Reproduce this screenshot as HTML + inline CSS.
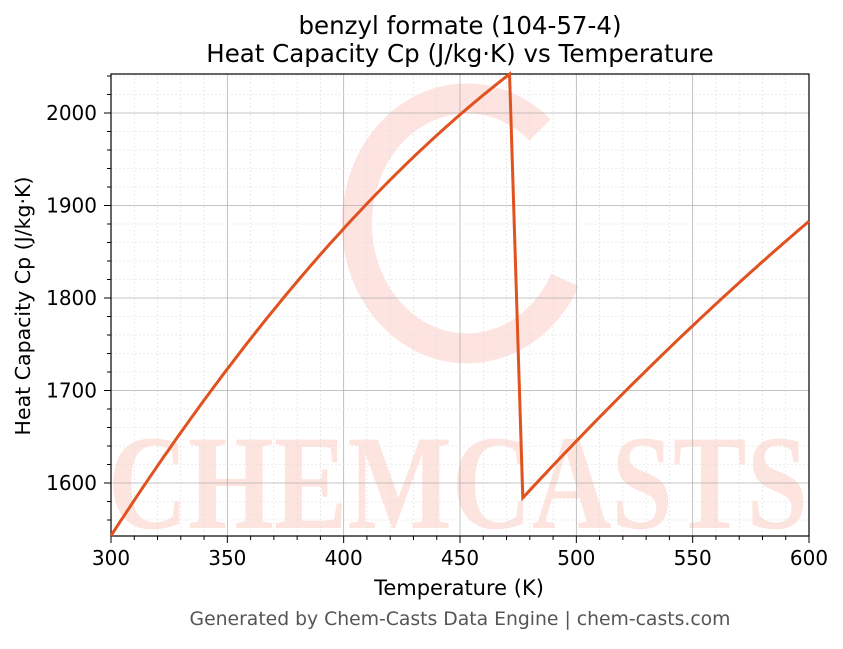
<!DOCTYPE html>
<html><head><meta charset="utf-8"><style>
body{margin:0;background:#fff;width:843px;height:644px;overflow:hidden}
svg text{font-family:"DejaVu Sans","Liberation Sans",sans-serif}
</style></head><body>
<svg id="s" width="843" height="644" xmlns="http://www.w3.org/2000/svg">
<rect width="843" height="644" fill="#fff"/>
<g id="wm" opacity="0.45">
<path d="M540 130 A110 125 0 1 0 565 280" fill="none" stroke="#fcc4ba" stroke-width="30"/>
<text x="458" y="528" text-anchor="middle" font-size="135" font-weight="bold" fill="#fcc4ba" textLength="700" lengthAdjust="spacingAndGlyphs" style="font-family:'Liberation Serif',serif">CHEMCASTS</text>
</g>
<g id="grid"></g>
<rect x="111" y="74" width="698" height="462" fill="none" stroke="#000" stroke-width="1.2"/>
<g id="ticks" font-size="20" fill="#000"></g>
<path id="c" fill="none" stroke="#e0521f" stroke-width="3"/>
<text x="460" y="34" text-anchor="middle" font-size="24.5">benzyl formate (104-57-4)</text>
<text x="460" y="62" text-anchor="middle" font-size="24.5">Heat Capacity Cp (J/kg·K) vs Temperature</text>
<text x="459" y="595" text-anchor="middle" font-size="21">Temperature (K)</text>
<text transform="translate(30,306) rotate(-90)" text-anchor="middle" font-size="20.5">Heat Capacity Cp (J/kg·K)</text>
<text x="460" y="625" text-anchor="middle" font-size="18.8" fill="#555">Generated by Chem-Casts Data Engine | chem-casts.com</text>
</svg>
<script>
var X=t=>111+(t-300)*698/300, Y=v=>113+(2000-v)*0.925;
var g=document.getElementById('grid'),tk=document.getElementById('ticks'),h='',k='';
for(var t=300;t<=600;t+=10){var x=X(t);var maj=t%50==0;
 h+=`<line x1="${x}" x2="${x}" y1="74" y2="536" stroke="${maj?'#b0b0b0':'#ddd'}" stroke-width="${maj?0.8:0.6}" ${maj?'':'stroke-dasharray="2,2"'}/>`;
 k+=`<line x1="${x}" x2="${x}" y1="536" y2="${maj?543:540}" stroke="#000"/>`;
 if(maj)k+=`<text x="${x}" y="565" text-anchor="middle">${t}</text>`;}
for(var v=1560;v<=2040;v+=20){var y=Y(v);if(y<74||y>536)continue;var maj=v%100==0;
 h+=`<line x1="111" x2="809" y1="${y}" y2="${y}" stroke="${maj?'#b0b0b0':'#ddd'}" stroke-width="${maj?0.8:0.6}" ${maj?'':'stroke-dasharray="2,2"'}/>`;
 k+=`<line x1="${maj?104:107}" x2="111" y1="${y}" y2="${y}" stroke="#000"/>`;
 if(maj)k+=`<text x="97" y="${y+7}" text-anchor="end">${v}</text>`;}
g.innerHTML=h;tk.innerHTML=k;
function L(p,t){var r=0;for(var i=0;i<3;i++){var w=p[i][1];for(var j=0;j<3;j++)if(j!=i)w*=(t-p[j][0])/(p[i][0]-p[j][0]);r+=w;}return r;}
var a=[[300,1543],[400,1875],[471.3,2042]],b=[[477,1584],[550,1770],[600,1883]],d='';
for(var t=300;t<=471.3;t+=1.9)d+=(d?'L':'M')+X(t).toFixed(1)+' '+Y(L(a,t)).toFixed(1);
d+='L'+X(471.3)+' '+Y(2042);
for(var t=477;t<600;t+=2)d+='L'+X(t).toFixed(1)+' '+Y(L(b,t)).toFixed(1);
d+='L'+X(600)+' '+Y(1883);
document.getElementById('c').setAttribute('d',d);
</script>
</body></html>
